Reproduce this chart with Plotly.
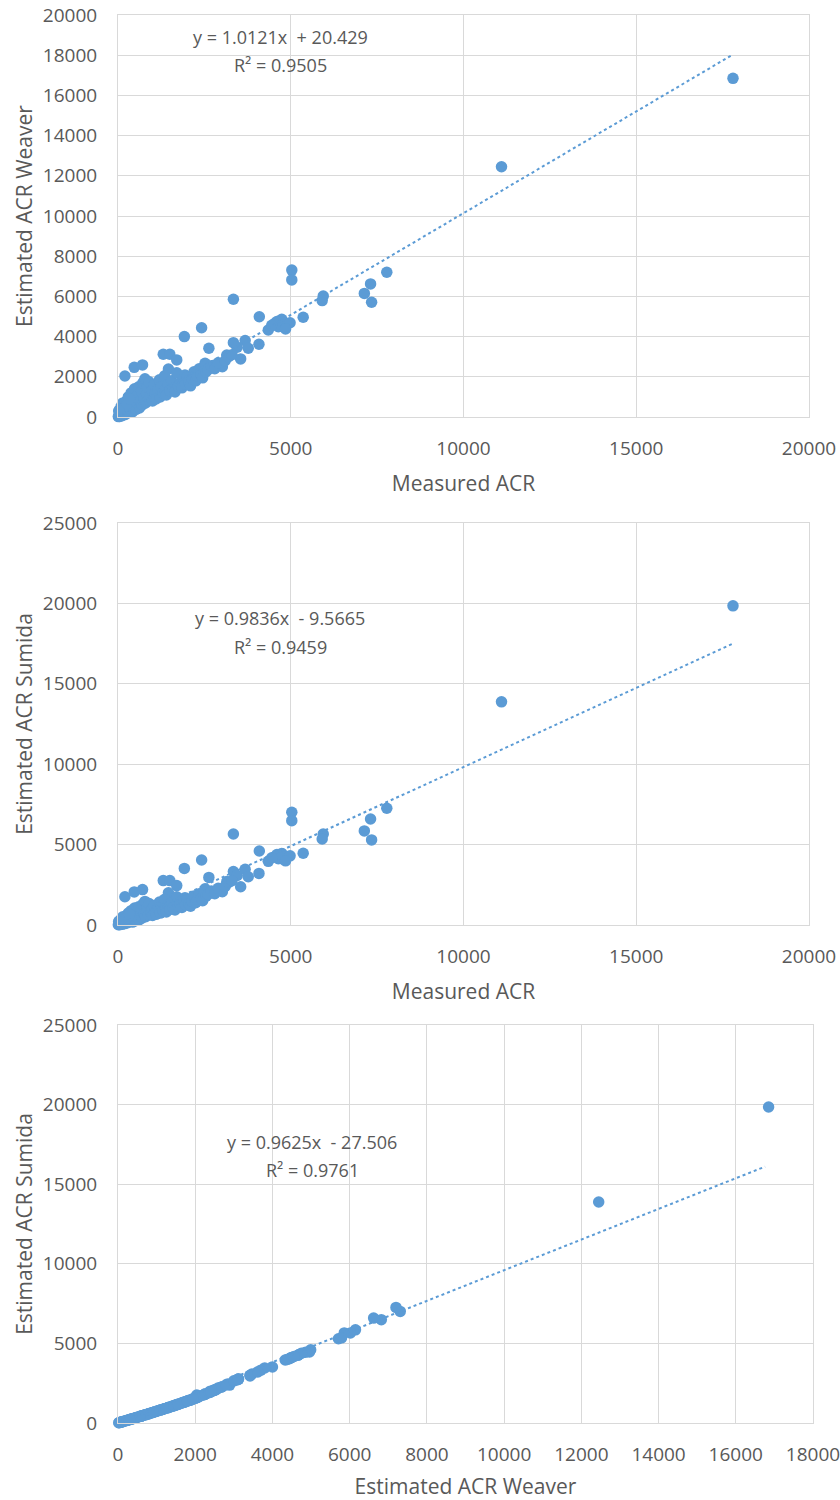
import plotly.graph_objects as go

# ---- data: one entry per sample (Measured ACR, Weaver estimate, Sumida estimate) ----
measured = [
    5030, 5030, 3340, 7780, 7310, 7130, 7340, 5940, 5910, 4090, 5360, 4350, 4540, 4740, 4780,
    4980, 4640, 2420, 1920, 2630, 3340, 3450, 3680, 3770, 4080, 3550, 3150, 3020, 2690, 2520,
    1310, 1500, 1700, 200, 470, 710, 1460, 1940, 2420, 11100, 17800, 4600, 4850, 4450,
    10, 30, 50, 60, 80, 100, 120, 150, 160, 180, 200, 220, 250, 260, 280, 300, 320, 350, 380,
    400, 420, 450, 480, 500, 520, 550, 580, 600, 620, 650, 680, 700, 720, 750, 780, 800, 830,
    850, 880, 900, 950, 980, 1000, 1050, 1080, 1100, 1150, 1200, 1220, 1250, 1300, 1350, 1380,
    1400, 1450, 1500, 1550, 1600, 1650, 1700, 1750, 1800, 1850, 1900, 1950, 2000, 2050, 2100,
    2150, 2200, 2250, 2300, 2350, 2400, 2450, 2500, 2550, 2600, 2700, 2800, 2900, 3100, 3200,
    3300, 40, 90, 140, 70, 110, 190, 240, 330, 20,
]
weaver = [
    7310, 6820, 5860, 7200, 6620, 6150, 5710, 6020, 5790, 4990, 4960, 4330, 4660, 4860, 4490,
    4690, 4490, 4440, 4000, 3420, 3700, 3470, 3800, 3420, 3620, 2890, 3080, 2500, 2470, 2670,
    3120, 3120, 2840, 2040, 2470, 2590, 2390, 2090, 2340, 12450, 16850, 4750, 4380, 4560,
    20, 60, 30, 150, 90, 250, 60, 400, 180, 600, 120, 300, 800, 450, 200, 1000, 600, 350, 1200,
    750, 250, 500, 1400, 900, 380, 650, 1100, 1500, 450, 800, 1300, 600, 1700, 950, 1900, 700, 1150,
    1500, 850, 1750, 1050, 1300, 800, 1600, 1150, 900, 1350, 1850, 1000, 1500, 1200, 2050, 1400,
    1100, 1650, 1300, 1800, 1450, 1250, 2200, 1550, 1700, 1450, 1900, 1650, 2000, 1750, 1550,
    1900, 2250, 1800, 2050, 2400, 2100, 1950, 2500, 2250, 2350, 2550, 2400, 2700, 2800, 3000,
    3100, 330, 520, 700, 100, 380, 240, 560, 900, 300,
]
sumida = [
    7010, 6490, 5660, 7260, 6590, 5850, 5290, 5660, 5350, 4600, 4460, 3960, 4250, 4450, 4100,
    4300, 4120, 4040, 3520, 2960, 3320, 3080, 3460, 3000, 3210, 2380, 2700, 2070, 2030, 2250,
    2760, 2760, 2450, 1760, 2060, 2200, 2000, 1700, 1900, 13880, 19850, 4380, 3990, 4180,
    14, 43, 22, 108, 65, 180, 43, 288, 130, 436, 86, 216, 588, 324, 144, 740, 436, 252, 892,
    550, 180, 360, 1050, 664, 274, 474, 816, 1130, 324, 588, 970, 436, 1298, 702, 1466, 512, 854,
    1130, 626, 1340, 778, 970, 588, 1214, 854, 664, 1010, 1424, 740, 1130, 892, 1600, 1050,
    816, 1256, 970, 1382, 1090, 930, 1750, 1172, 1298, 1090, 1466, 1256, 1550, 1340, 1172,
    1466, 1800, 1382, 1600, 1950, 1650, 1508, 2050, 1800, 1900, 2108, 1950, 2282, 2402, 2650,
    2750, 238, 375, 512, 72, 274, 173, 405, 664, 216,
]

# trendline equations shown on the charts (slope, intercept, R²) and the span they cover
fits = [
    dict(slope=1.0121, intercept=20.429, r2="0.9505", label="y = 1.0121x  + 20.429", x0=0, x1=17800),
    dict(slope=0.9836, intercept=-9.5665, r2="0.9459", label="y = 0.9836x  - 9.5665", x0=0, x1=17800),
    dict(slope=0.9625, intercept=-27.506, r2="0.9761", label="y = 0.9625x  - 27.506", x0=0, x1=16760),
]

BLUE = "#5b9bd5"
GRID = "#d9d9d9"
TXT = "#595959"
FONT = "Open Sans"

W, H = 840, 1500


def dx(px0, px1):
    return [px0 / W, px1 / W]


def dy(top, bottom):
    return [1 - bottom / H, 1 - top / H]


panels = [
    dict(x=measured, y=weaver, xt="Measured ACR", yt="Estimated ACR Weaver",
         xr=[0, 20000], yr=[0, 20000], xd=5000, yd=2000,
         dom_x=dx(118, 809), dom_y=dy(15, 417),
         eq_pos=(4690, 18900), r2_pos=(4690, 17510)),
    dict(x=measured, y=sumida, xt="Measured ACR", yt="Estimated ACR Sumida",
         xr=[0, 20000], yr=[0, 25000], xd=5000, yd=5000,
         dom_x=dx(118, 809), dom_y=dy(523, 925),
         eq_pos=(4690, 19090), r2_pos=(4690, 17290)),
    dict(x=weaver, y=sumida, xt="Estimated ACR Weaver", yt="Estimated ACR Sumida",
         xr=[0, 18000], yr=[0, 25000], xd=2000, yd=5000,
         dom_x=dx(118, 813), dom_y=dy(1025, 1423),
         eq_pos=(5030, 17650), r2_pos=(5030, 15890)),
]

fig = go.Figure()
for i, (p, f) in enumerate(zip(panels, fits), start=1):
    xa = "x" if i == 1 else f"x{i}"
    ya = "y" if i == 1 else f"y{i}"
    fig.add_trace(go.Scatter(
        x=p["x"], y=p["y"], mode="markers", xaxis=xa, yaxis=ya,
        marker=dict(color=BLUE, size=11.5, line=dict(width=0)),
        cliponaxis=False, showlegend=False, hoverinfo="x+y"))
    lx = [f["x0"], f["x1"]]
    ly = [f["slope"] * v + f["intercept"] for v in lx]
    fig.add_trace(go.Scatter(
        x=lx, y=ly, mode="lines", xaxis=xa, yaxis=ya,
        line=dict(color=BLUE, width=2, dash="dot"),
        showlegend=False, hoverinfo="skip"))
    axis_common = dict(showgrid=True, gridcolor=GRID, gridwidth=1, zeroline=False,
                       showline=True, linecolor=GRID, linewidth=1, mirror=True,
                       ticks="outside", tickcolor="rgba(0,0,0,0)", tickformat="d",
                       automargin=False, ticklabeloverflow="allow",
                       tickfont=dict(family=FONT, size=19, color=TXT))
    fig.layout[f"xaxis{'' if i == 1 else i}"] = dict(
        axis_common, domain=p["dom_x"], range=p["xr"], dtick=p["xd"], tick0=0,
        anchor=ya, ticklen=14,
        title=dict(text=p["xt"], font=dict(family=FONT, size=21, color=TXT), standoff=16))
    fig.layout[f"yaxis{'' if i == 1 else i}"] = dict(
        axis_common, domain=p["dom_y"], range=p["yr"], dtick=p["yd"], tick0=0,
        anchor=xa, ticklen=16,
        title=dict(text=p["yt"], font=dict(family=FONT, size=21, color=TXT), standoff=4))
    fig.add_annotation(x=p["eq_pos"][0], y=p["eq_pos"][1], xref=xa, yref=ya,
                       text=f["label"], showarrow=False,
                       font=dict(family=FONT, size=18, color=TXT))
    fig.add_annotation(x=p["r2_pos"][0], y=p["r2_pos"][1], xref=xa, yref=ya,
                       text="R² = " + f["r2"], showarrow=False,
                       font=dict(family=FONT, size=18, color=TXT))

fig.update_layout(width=W, height=H, margin=dict(l=0, r=0, t=0, b=0),
                  paper_bgcolor="white", plot_bgcolor="white")
# remove the browser's default 8px page margin so the 840x1500 figure fills the window
fig.write_html("out.html", config={"displayModeBar": False},
               post_script="document.body.style.margin='0';document.body.style.overflow='hidden';")
